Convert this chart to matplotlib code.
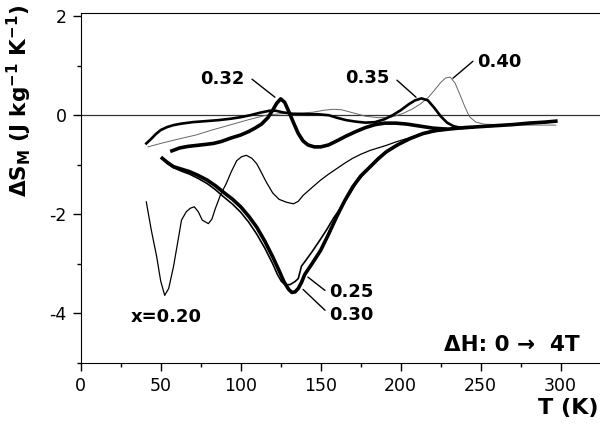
import numpy as np
import matplotlib
matplotlib.use("Agg")
import matplotlib.pyplot as plt
from matplotlib.ticker import MultipleLocator

plt.rcParams["font.family"] = ["DejaVu Sans"]
plt.rcParams["mathtext.default"] = "bf"
plt.rcParams["axes.unicode_minus"] = False

# curvas: T (K) y Delta S_M (J/kg K)
T_020 = [41, 44, 47.5, 50, 52.5, 55, 58, 61, 63, 66, 68.5, 71, 73.5, 76, 79.8, 82, 84,
         87.5, 91, 94, 97.5, 100.5, 103.5, 107, 110, 112, 116, 120, 124, 128.8, 133,
         136, 139, 145, 150, 155, 160, 165, 170, 175, 181, 186, 191, 197, 203, 210,
         218, 230, 245, 260, 275, 290, 297]
S_020 = [-1.75, -2.3, -2.86, -3.35, -3.64, -3.5, -3.06, -2.5, -2.12, -1.95, -1.88, -1.85,
         -1.95, -2.12, -2.19, -2.1, -1.9, -1.6, -1.38, -1.15, -0.92, -0.84, -0.81, -0.87,
         -0.98, -1.1, -1.35, -1.57, -1.7, -1.76, -1.79, -1.74, -1.62, -1.45, -1.31,
         -1.19, -1.08, -0.97, -0.87, -0.79, -0.71, -0.66, -0.61, -0.54, -0.48, -0.42,
         -0.35, -0.29, -0.25, -0.22, -0.18, -0.15, -0.14]

T_025 = [51, 54, 58, 63, 68, 73, 79, 84, 89, 95, 100, 105, 110, 115, 120, 123, 125.5,
         128, 131, 134, 136, 138, 141, 145, 150, 154, 158, 163, 168, 172, 177, 182,
         187, 192, 198, 205, 213, 222, 240, 260, 280, 297]
S_025 = [-0.87, -0.97, -1.06, -1.13, -1.19, -1.27, -1.38, -1.5, -1.64, -1.8, -1.96,
         -2.16, -2.4, -2.68, -3.0, -3.22, -3.36, -3.43, -3.42, -3.36, -3.3, -3.05,
         -2.92, -2.74, -2.5, -2.3, -2.08, -1.85, -1.6, -1.38, -1.18, -0.99, -0.84,
         -0.71, -0.59, -0.47, -0.37, -0.3, -0.25, -0.21, -0.16, -0.13]

T_030 = [51, 54, 58, 63, 68, 73, 79, 84, 89, 95, 100, 105, 110, 115, 120, 124, 127,
         130, 132, 134, 136, 138, 140, 145, 150, 155, 160, 165, 170, 175, 181, 186,
         191, 198, 206, 214, 222, 230, 240, 250, 260, 270, 280, 290, 297]
S_030 = [-0.87, -0.95, -1.04, -1.09, -1.14, -1.21, -1.31, -1.42, -1.55, -1.7, -1.85,
         -2.04, -2.26, -2.54, -2.86, -3.14, -3.36, -3.52, -3.58, -3.57, -3.5, -3.38,
         -3.22, -2.98, -2.73, -2.4, -2.05, -1.73, -1.45, -1.23, -1.04, -0.88, -0.74,
         -0.6, -0.47, -0.37, -0.31, -0.28, -0.25, -0.23, -0.21, -0.19, -0.16, -0.14,
         -0.12]

T_032 = [57, 62, 67, 72.5, 78, 83, 88, 94, 100, 105, 109, 113, 117, 120, 122.5, 125,
         127.5, 130, 133, 136, 139, 142, 146, 150, 155, 160, 166, 172, 178, 184, 190,
         197, 204, 212, 220, 228]
S_032 = [-0.72, -0.66, -0.63, -0.61, -0.59, -0.57, -0.53, -0.46, -0.4, -0.33, -0.26,
         -0.18, -0.05, 0.1, 0.24, 0.33, 0.26, 0.08, -0.15, -0.37, -0.52, -0.6, -0.64,
         -0.64, -0.6, -0.52, -0.42, -0.33, -0.25, -0.19, -0.16, -0.16, -0.18, -0.22,
         -0.26, -0.28]

T_035 = [41, 44, 47, 50, 54, 58, 63, 70, 78, 86, 94, 100, 106, 112, 118, 122, 126,
         132, 140, 148, 155, 160, 166, 172, 178, 184, 190, 195, 200, 205, 209, 213,
         217, 221, 225, 229, 233, 238, 245]
S_035 = [-0.57, -0.48, -0.38, -0.3, -0.24, -0.2, -0.17, -0.14, -0.12, -0.1, -0.07,
         -0.04, 0.0, 0.05, 0.09, 0.09, 0.06, 0.03, 0.02, 0.02, 0.0, -0.05, -0.1, -0.13,
         -0.15, -0.14, -0.08, 0.0, 0.1, 0.22, 0.3, 0.34, 0.3, 0.15, -0.02, -0.15,
         -0.22, -0.26, -0.25]

T_040 = [42, 50, 60, 72, 82, 93, 105, 116, 125, 135, 145, 152, 158, 163, 170, 178,
         186, 194, 201, 207, 212, 217, 221, 225, 228, 231, 234, 237, 240, 243, 247,
         252, 260, 275, 297]
S_040 = [-0.64, -0.57, -0.49, -0.4, -0.3, -0.2, -0.09, 0.0, 0.03, 0.04, 0.06, 0.1,
         0.12, 0.11, 0.05, -0.02, -0.05, -0.04, 0.03, 0.12, 0.22, 0.35, 0.5, 0.66,
         0.75, 0.77, 0.65, 0.42, 0.18, -0.03, -0.14, -0.18, -0.19, -0.2, -0.2]

fig = plt.figure(figsize=(6, 4.25), dpi=100)
ax = fig.add_axes([0.1345, 0.1466, 0.8655, 0.8234])

ax.axhline(0, color="#333333", lw=0.9, zorder=1)

ax.plot(T_040, S_040, color="#666666", lw=0.7)
ax.plot(T_020, S_020, color="black", lw=0.9)
ax.plot(T_025, S_025, color="black", lw=1.2)
ax.plot(T_030, S_030, color="black", lw=2.6)
ax.plot(T_035, S_035, color="black", lw=1.9)
ax.plot(T_032, S_032, color="black", lw=2.6)

ax.set_xlim(0, 324.6)
ax.set_ylim(-5, 2.07)
ax.xaxis.set_major_locator(MultipleLocator(50))
ax.xaxis.set_minor_locator(MultipleLocator(25))
ax.yaxis.set_major_locator(MultipleLocator(2))
ax.yaxis.set_minor_locator(MultipleLocator(1))
ax.tick_params(which="major", direction="out", length=5.8, width=1,
               labelsize=12.5, pad=4.5)
ax.tick_params(which="minor", direction="out", length=2.8, width=1)
ax.spines["right"].set_visible(False)

ax.set_ylabel("ΔS$_{M}$ (J kg$^{-1}$ K$^{-1}$)", fontsize=15.5, fontweight="bold")
ax.yaxis.set_label_coords(-0.09, 0.747)
fig.text(0.998, 1 - 408 / 425, "T (K)", fontsize=16, fontweight="bold",
         ha="right", va="center")

lab = dict(fontsize=13, fontweight="bold", ha="center", va="center")
line = dict(arrowstyle="-", color="black", lw=1, shrinkA=0, shrinkB=0)
ax.text(88.3, 0.727, "0.32", **lab)
ax.annotate("", xy=(121.4, 0.364), xytext=(107.1, 0.727), arrowprops=line)
ax.text(178.9, 0.747, "0.35", **lab)
ax.annotate("", xy=(209.6, 0.364), xytext=(197.7, 0.707), arrowprops=line)
ax.text(261.4, 1.07, "0.40", **lab)
ax.annotate("", xy=(232.7, 0.747), xytext=(245.2, 1.09), arrowprops=line)
ax.text(169, -3.58, "0.25", **lab)
ax.annotate("", xy=(142, -3.27), xytext=(152.7, -3.54), arrowprops=line)
ax.text(169, -4.04, "0.30", **lab)
ax.annotate("", xy=(139, -3.52), xytext=(152.7, -3.94), arrowprops=line)
ax.text(53.3, -4.08, "x=0.20", **lab)
ax.text(312, -4.65, "ΔH: 0 →  4T", fontsize=15.5, fontweight="bold",
        ha="right", va="center")

fig.savefig("out.png", dpi=100)
